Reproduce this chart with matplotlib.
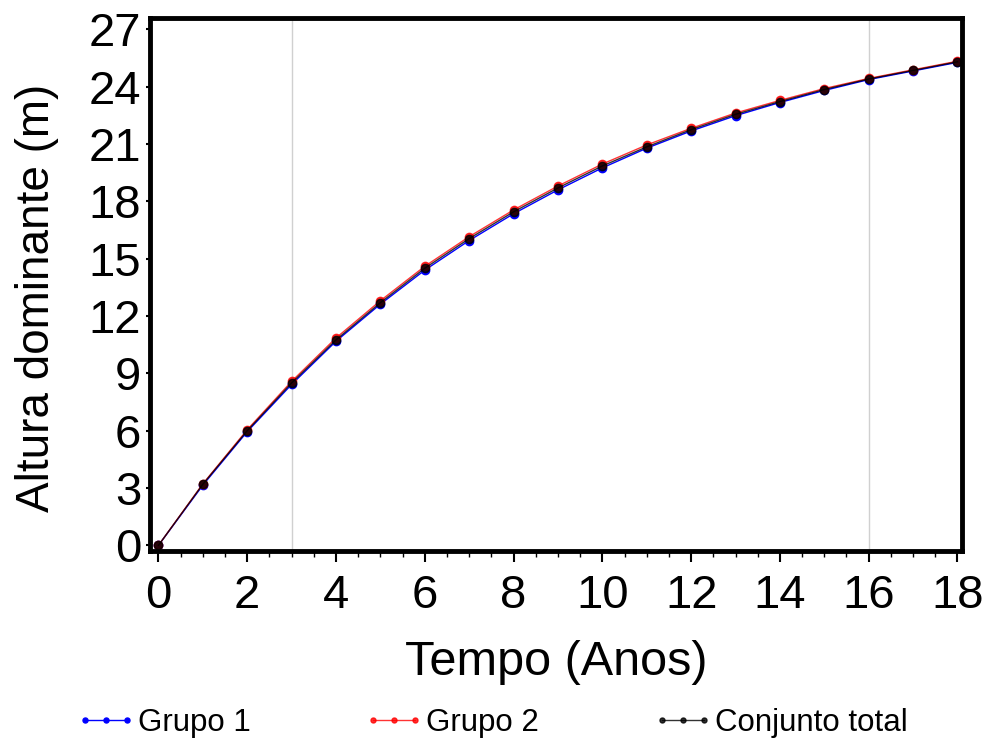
import matplotlib
matplotlib.use('Agg')
import matplotlib.pyplot as plt
import numpy as np

plt.rcParams['font.family'] = ['Liberation Sans', 'DejaVu Sans']

# idade (anos)
tempo = list(range(0, 19))
# altura dominante (m)
grupo1 = [0.0, 3.15, 5.95, 8.42, 10.68, 12.62, 14.4, 15.95, 17.35, 18.6, 19.75,
          20.78, 21.68, 22.48, 23.17, 23.8, 24.37, 24.82, 25.27]
grupo2 = [0.0, 3.22, 6.05, 8.58, 10.85, 12.8, 14.6, 16.15, 17.55, 18.8, 19.95,
          20.95, 21.82, 22.62, 23.28, 23.9, 24.43, 24.88, 25.33]
total = [0.0, 3.2, 6.0, 8.5, 10.75, 12.7, 14.5, 16.05, 17.45, 18.7, 19.85,
         20.85, 21.75, 22.55, 23.22, 23.85, 24.4, 24.85, 25.3]
linhas_ref = [3, 16]

fig = plt.figure(figsize=(9.84, 7.43), dpi=100)
ax = fig.add_axes([0.152, 0.258, 0.826, 0.718])

for xv in linhas_ref:
    ax.axvline(xv, color='#d0d0d0', lw=1.0, zorder=0)

l1, = ax.plot(tempo, grupo1, color='blue', lw=1, marker='o', ms=6,
              mfc='blue', mec='blue', label='Grupo 1')
l2, = ax.plot(tempo, grupo2, color='red', lw=1, marker='o', ms=6,
              mfc='red', mec='red', label='Grupo 2', alpha=0.8)
l3, = ax.plot(tempo, total, color='black', lw=1, marker='o', ms=6,
              mfc='black', mec='black', label='Conjunto total', alpha=0.8)

ax.set_xlim(-0.2, 18.11)
ax.set_ylim(-0.31, 27.6)
ax.set_xticks(range(0, 19, 2))
ax.set_xticks(np.arange(0, 18.1, 0.5), minor=True)
ax.set_yticks(range(0, 28, 3))
ax.tick_params(axis='both', which='major', labelsize=34, width=1.5,
               direction='out')
ax.tick_params(axis='x', which='major', length=8, pad=8)
ax.tick_params(axis='y', which='major', length=3, pad=3)
ax.tick_params(axis='x', which='minor', length=4, width=1.0, direction='out')
for s in ax.spines.values():
    s.set_linewidth(3.5)

ax.set_xlabel('Tempo (Anos)', fontsize=35, labelpad=16)
ax.set_ylabel('Altura dominante (m)', fontsize=33)
ax.yaxis.set_label_coords(-0.111, 0.475)

# legenda: uma entrada por vez, para repetir o espaçamento do original
for h, xpos in [(l1, 0.0768), (l2, 0.3695), (l3, 0.6632)]:
    fig.legend(handles=[h], loc='center left', bbox_to_anchor=(xpos, 0.027),
               frameon=False, fontsize=22.5, markerscale=0.6,
               handlelength=1.95, handletextpad=0.05, numpoints=3,
               borderpad=0, borderaxespad=0)

fig.savefig('out.png', dpi=100)
